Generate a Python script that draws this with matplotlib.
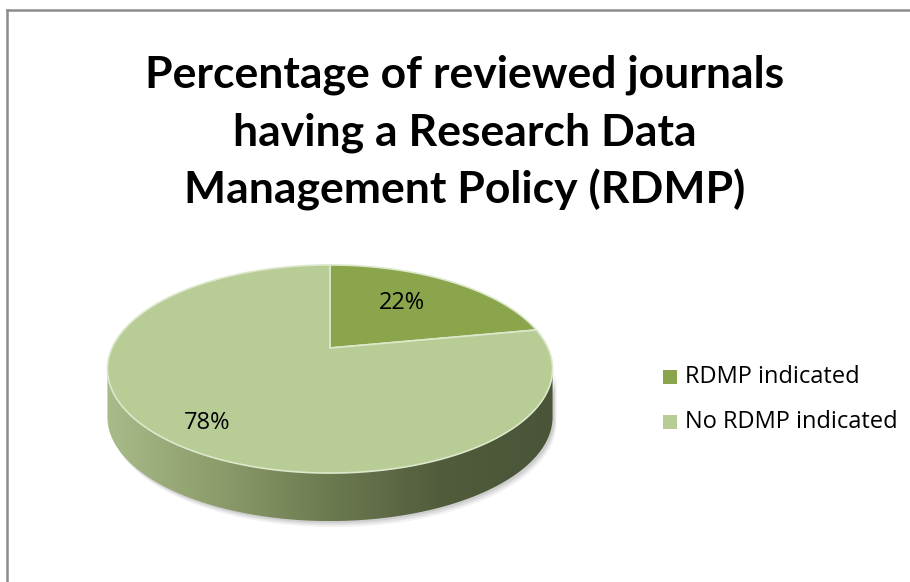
import numpy as np
import matplotlib
matplotlib.use("Agg")
import matplotlib.pyplot as plt
from matplotlib.patches import Polygon
from matplotlib.lines import Line2D
from matplotlib.colors import LinearSegmentedColormap

# ---- data ----
categories = ["RDMP indicated", "No RDMP indicated"]
values = [22, 78]
labels = ["22%", "78%"]
title_lines = ["Percentage of reviewed journals",
               "having a Research Data",
               "Management Policy (RDMP)"]

top_colors = ["#8aa54b", "#b8cc95"]
edge_col = "#dde8cc"

W, H = 910, 582
fig = plt.figure(figsize=(W / 100, H / 100), dpi=100)
ax = fig.add_axes([0, 0, 1, 1])
ax.set_xlim(0, W)
ax.set_ylim(H, 0)
ax.axis("off")

# frame
ax.add_line(Line2D([7, 7], [9.5, H], color="#8c8c8c", lw=1.8))
ax.add_line(Line2D([7, W], [9.5, 9.5], color="#8c8c8c", lw=1.8))

# title
for i, line in enumerate(title_lines):
    ax.text(465, 75 + 57.5 * i, line, ha="center", va="center", fontsize=32,
            fontweight="bold", family=["Lato", "DejaVu Sans"])

# ---- pseudo-3D pie geometry ----
cx, cy = 330, 348
A, B, k = 218, 99.8, 0.202
D = 48


def proj(theta_deg, dz=0.0):
    t = np.radians(theta_deg)
    u, v = np.sin(t), np.cos(t)
    x = cx + A * u / (1 + k * v)
    y = cy - B * v / (1 + k * v) + dz
    return x, y


# side (front visible part)
th0 = np.degrees(np.arccos(-k))
th1 = 360 - th0
ts = np.linspace(th0, th1, 200)
xt, yt = proj(ts)
xb, yb = proj(ts[::-1], D)
side_pts = np.column_stack([np.r_[xt, xb], np.r_[yt, yb]])

# shadow
for dx, dy, a in [(4, 6, 0.05), (3, 4, 0.07), (2, 2, 0.08)]:
    ax.add_patch(Polygon(side_pts + np.array([dx, dy]), closed=True,
                         fc="#000000", ec="none", alpha=a, zorder=1))

side = Polygon(side_pts, closed=True, fc="none", ec="none", zorder=2)
ax.add_patch(side)
xmin, xmax = side_pts[:, 0].min(), side_pts[:, 0].max()
grad = np.linspace(0, 1, 256)[None, :]
cmap = LinearSegmentedColormap.from_list(
    "side", ["#a9bb8a", "#8c9c6b", "#6c7a50", "#515c3c", "#4a5437"])
im = ax.imshow(grad, extent=[xmin, xmax, side_pts[:, 1].max(), side_pts[:, 1].min()],
               cmap=cmap, aspect="auto", zorder=2, interpolation="bilinear")
im.set_clip_path(side)
ax.set_xlim(0, W)
ax.set_ylim(H, 0)

# top slices
start = 0.0
total = sum(values)
for val, col in zip(values, top_colors):
    ang = 360.0 * val / total
    tt = np.linspace(start, start + ang, 200)
    x, y = proj(tt)
    pts = np.column_stack([np.r_[cx, x], np.r_[cy, y]])
    ax.add_patch(Polygon(pts, closed=True, fc=col, ec=edge_col, lw=1.2,
                         joinstyle="round", zorder=3))
    start += ang

# labels
ax.text(402, 303, labels[0], ha="center", va="center", fontsize=17,
        family=["Open Sans", "DejaVu Sans"], zorder=5)
ax.text(207, 423, labels[1], ha="center", va="center", fontsize=17,
        family=["Open Sans", "DejaVu Sans"], zorder=5)

# legend
for i, (cat, col) in enumerate(zip(categories, top_colors)):
    y = 377 + 45 * i
    ax.add_patch(plt.Rectangle((663, y - 7), 14, 14, fc=col, ec="none"))
    ax.text(685, y, cat, ha="left", va="center", fontsize=17,
            family=["Open Sans", "DejaVu Sans"])

fig.savefig("out.png", dpi=100)
